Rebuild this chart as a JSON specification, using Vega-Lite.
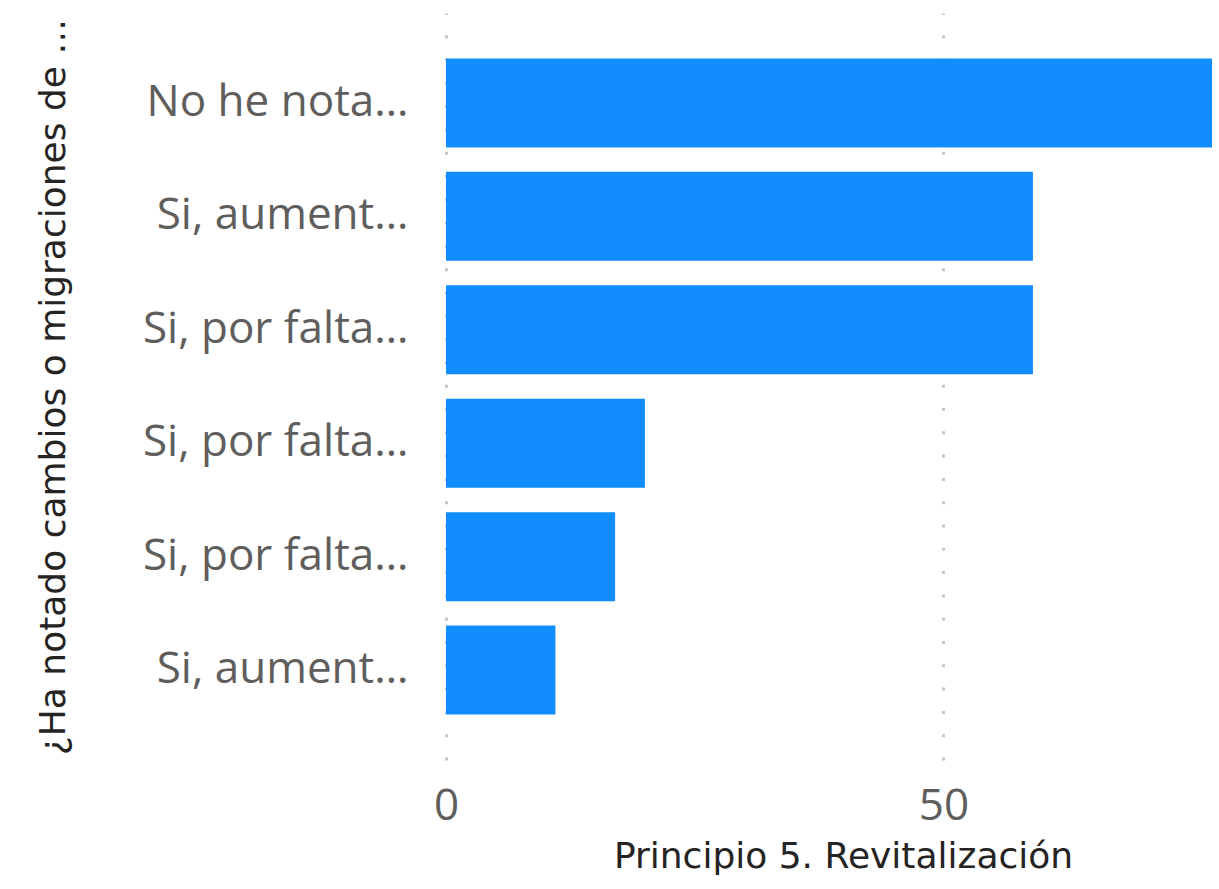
{
  "$schema": "https://vega.github.io/schema/vega-lite/v6.json",
  "autosize": {"type": "none"},
  "padding": {"left": 446, "top": 13, "right": 7, "bottom": 129},
  "width": 766,
  "height": 747,
  "background": "#ffffff",
  "config": {"view": {"stroke": null}},
  "data": {
    "values": [
      {"id": "r1", "orden": 1, "respuesta": "No he nota…", "valor": 77},
      {"id": "r2", "orden": 2, "respuesta": "Si, aument…", "valor": 59},
      {"id": "r3", "orden": 3, "respuesta": "Si, por falta…", "valor": 59},
      {"id": "r4", "orden": 4, "respuesta": "Si, por falta…", "valor": 20},
      {"id": "r5", "orden": 5, "respuesta": "Si, por falta…", "valor": 17},
      {"id": "r6", "orden": 6, "respuesta": "Si, aument…", "valor": 11}
    ]
  },
  "mark": {"type": "bar", "color": "#118DFF"},
  "encoding": {
    "y": {
      "field": "id",
      "type": "nominal",
      "sort": {"field": "orden", "order": "ascending"},
      "scale": {"paddingInner": 0.215, "paddingOuter": 0.4},
      "axis": {
        "title": "¿Ha notado cambios o migraciones de …",
        "titleFont": "DejaVu Sans",
        "titleFontSize": 36,
        "titleFontWeight": "normal",
        "titleColor": "#252423",
        "titleX": -382,
        "titleBaseline": "alphabetic",
        "labelExpr": "{'r1':'No he nota…','r2':'Si, aument…','r3':'Si, por falta…','r4':'Si, por falta…','r5':'Si, por falta…','r6':'Si, aument…'}[datum.value]",
        "labelFont": "Open Sans",
        "labelFontSize": 44,
        "labelColor": "#605E5C",
        "labelPadding": 38,
        "labelLimit": 400,
        "ticks": false,
        "domain": false,
        "grid": false
      }
    },
    "x": {
      "field": "valor",
      "type": "quantitative",
      "scale": {"domain": [0, 77], "nice": false, "zero": true},
      "axis": {
        "title": "Principio 5. Revitalización",
        "titleFont": "DejaVu Sans",
        "titleFontSize": 36,
        "titleFontWeight": "normal",
        "titleColor": "#252423",
        "titleX": 397,
        "titleY": 107,
        "titleBaseline": "alphabetic",
        "values": [0, 50],
        "labelFlush": false,
        "labelFont": "Open Sans",
        "labelFontSize": 44,
        "labelColor": "#605E5C",
        "labelPadding": 24,
        "ticks": false,
        "domain": false,
        "grid": true,
        "gridColor": "#C8C6C4",
        "gridWidth": 3,
        "gridDash": [3, 20.3]
      }
    }
  }
}
